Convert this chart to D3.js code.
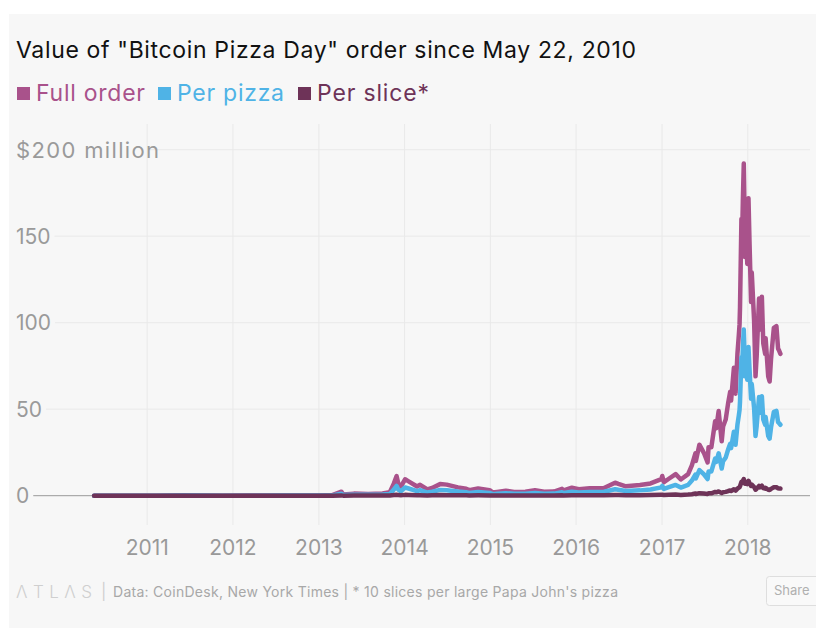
<!DOCTYPE html>
<html>
<head>
<meta charset="utf-8">
<script src="https://cdn.jsdelivr.net/npm/d3@7"></script>
<style>
  body { margin: 0; background: #fff; }
  text { font-family: Inter, "Noto Sans", sans-serif; }
</style>
</head>
<body>
<script>
// DATA (values in $ millions)
const dates = [
  '2010-05-22', '2010-07-15', '2010-11-06', '2011-02-10', '2011-06-08', '2011-08-01', '2011-11-18', '2012-03-01', '2012-08-17', '2012-12-31',
  '2013-03-01', '2013-04-09', '2013-04-16', '2013-06-01', '2013-08-01', '2013-10-01', '2013-11-01', '2013-11-18', '2013-11-30', '2013-12-07',
  '2013-12-18', '2014-01-05', '2014-01-20', '2014-02-25', '2014-03-10', '2014-04-10', '2014-04-30', '2014-06-03', '2014-07-01', '2014-08-18',
  '2014-09-22', '2014-10-05', '2014-11-12', '2014-12-31', '2015-01-14', '2015-02-01', '2015-03-10', '2015-04-14', '2015-06-01', '2015-07-12',
  '2015-08-20', '2015-10-01', '2015-11-04', '2015-11-11', '2015-12-16', '2016-01-15', '2016-03-01', '2016-05-01', '2016-06-17', '2016-07-01',
  '2016-08-02', '2016-10-01', '2016-11-15', '2016-12-31', '2017-01-04', '2017-01-11', '2017-02-01', '2017-03-02', '2017-03-24', '2017-04-24',
  '2017-05-10', '2017-05-25', '2017-05-27', '2017-06-11', '2017-06-30', '2017-07-16', '2017-07-20', '2017-08-01', '2017-08-17', '2017-08-22',
  '2017-09-01', '2017-09-14', '2017-09-20', '2017-10-01', '2017-10-12', '2017-10-20', '2017-10-24', '2017-11-05', '2017-11-12', '2017-11-20',
  '2017-11-26', '2017-11-29', '2017-12-01', '2017-12-07', '2017-12-10', '2017-12-13', '2017-12-17', '2017-12-19', '2017-12-22', '2017-12-25',
  '2017-12-28', '2018-01-01', '2018-01-06', '2018-01-10', '2018-01-17', '2018-01-20', '2018-01-30', '2018-02-05', '2018-02-10', '2018-02-20',
  '2018-02-24', '2018-03-04', '2018-03-10', '2018-03-18', '2018-03-20', '2018-03-31', '2018-04-06', '2018-04-12', '2018-04-24', '2018-05-05',
  '2018-05-12', '2018-05-16', '2018-05-22'
];

const fullOrder = [
  0, 0, 0, 0.01, 0.3, 0.13, 0.02, 0.05, 0.12, 0.13,
  0.34, 2.3, 0.7, 1.2, 1.0, 1.25, 2.0, 7.0, 11.3, 7.0,
  5.2, 9.5, 8.3, 5.3, 6.3, 3.6, 4.5, 6.7, 6.4, 4.8,
  4.0, 3.2, 4.2, 3.2, 1.8, 2.2, 2.9, 2.2, 2.3, 3.1,
  2.3, 2.4, 4.0, 3.1, 4.6, 3.8, 4.3, 4.5, 7.5, 6.8,
  5.4, 6.15, 7.1, 9.6, 11.4, 7.8, 9.8, 12.5, 9.4, 12.5,
  17.5, 24.5, 20, 29.5, 24.8, 19.3, 28, 28, 43, 39,
  49, 31.5, 40, 44, 54, 60, 55, 74, 59, 82,
  93, 99, 109, 160, 149, 170, 192, 175, 138, 140,
  146, 134, 172, 149, 112, 129, 101, 69, 81, 114,
  96, 115, 88, 82, 91, 69, 66, 79, 97, 98,
  85, 84, 82
];

const perPizza = [
  0, 0, 0, 0.01, 0.15, 0.07, 0.01, 0.03, 0.06, 0.07,
  0.17, 1.15, 0.35, 0.6, 0.5, 0.63, 1.0, 3.5, 5.65, 3.5,
  2.6, 4.75, 4.15, 2.65, 3.15, 1.8, 2.25, 3.35, 3.2, 2.4,
  2.0, 1.6, 2.1, 1.6, 0.9, 1.1, 1.45, 1.1, 1.15, 1.55,
  1.15, 1.2, 2.0, 1.55, 2.3, 1.9, 2.15, 2.25, 3.75, 3.4,
  2.7, 3.08, 3.55, 4.8, 5.7, 3.9, 4.9, 6.25, 4.7, 6.25,
  8.75, 12.25, 10.0, 14.75, 12.4, 9.65, 14.0, 14.0, 21.5, 19.5,
  24.5, 15.75, 20.0, 22.0, 27.0, 30.0, 27.5, 37.0, 29.5, 41.0,
  46.5, 49.5, 54.5, 80.0, 74.5, 85.0, 96.0, 87.5, 69.0, 70.0,
  73.0, 67.0, 86.0, 74.5, 56.0, 64.5, 50.5, 34.5, 40.5, 57.0,
  48.0, 57.5, 44.0, 41.0, 45.5, 34.5, 33.0, 39.5, 48.5, 49.0,
  42.5, 42.0, 41.0
];

const perSlice = [
  0, 0, 0, 0, 0.02, 0.01, 0, 0, 0.01, 0.01,
  0.02, 0.12, 0.04, 0.06, 0.05, 0.06, 0.1, 0.35, 0.57, 0.35,
  0.26, 0.48, 0.42, 0.27, 0.32, 0.18, 0.23, 0.34, 0.32, 0.24,
  0.2, 0.16, 0.21, 0.16, 0.09, 0.11, 0.15, 0.11, 0.12, 0.16,
  0.12, 0.12, 0.2, 0.16, 0.23, 0.19, 0.22, 0.23, 0.38, 0.34,
  0.27, 0.31, 0.36, 0.48, 0.57, 0.39, 0.49, 0.63, 0.47, 0.63,
  0.88, 1.23, 1.0, 1.48, 1.24, 0.97, 1.4, 1.4, 2.15, 1.95,
  2.45, 1.58, 2.0, 2.2, 2.7, 3.0, 2.75, 3.7, 2.95, 4.1,
  4.65, 4.95, 5.45, 8.0, 7.45, 8.5, 9.6, 8.75, 6.9, 7.0,
  7.3, 6.7, 8.6, 7.45, 5.6, 6.45, 5.05, 3.45, 4.05, 5.7,
  4.8, 5.75, 4.4, 4.1, 4.55, 3.45, 3.3, 3.95, 4.85, 4.9,
  4.25, 4.2, 4.1
];

const seriesNames = ['Full order', 'Per pizza', 'Per slice*'];
const seriesColors = ['#a9528b', '#4fb3e6', '#6e3358'];
const yTicks = [0, 50, 100, 150, 200];
const xTickYears = [2011, 2012, 2013, 2014, 2015, 2016, 2017, 2018];

const W = 816, H = 628;
const parse = d3.timeParse('%Y-%m-%d');
const axisFont = '"DejaVu Sans", Verdana, sans-serif';

const svg = d3.select('body').append('svg')
  .attr('width', W)
  .attr('height', H);

// panel background
svg.append('rect')
  .attr('x', 9).attr('y', 14)
  .attr('width', W - 9).attr('height', H - 14)
  .attr('fill', '#f7f7f7');

// SCALES
const x = d3.scaleTime()
  .domain([new Date(2011, 0, 1), new Date(2018, 0, 1)])
  .range([146.7, 747.3]);

const y = d3.scaleLinear()
  .domain([0, 200])
  .range([495.7, 149.7]);

// TITLE + LEGEND
svg.append('text')
  .attr('x', 16).attr('y', 58)
  .attr('font-size', 23)
  .attr('fill', '#111')
  .attr('textLength', 620)
  .attr('lengthAdjust', 'spacing')
  .text('Value of "Bitcoin Pizza Day" order since May 22, 2010');

// legend positions: square x, text width
const legendX = [17, 158, 298];
const legendW = [109, 107, 112];
const legend = svg.append('g');
seriesNames.forEach((name, i) => {
  legend.append('rect')
    .attr('x', legendX[i]).attr('y', 87)
    .attr('width', 13).attr('height', 13)
    .attr('fill', seriesColors[i]);
  legend.append('text')
    .attr('x', legendX[i] + 19).attr('y', 101)
    .attr('font-size', 23)
    .attr('fill', seriesColors[i])
    .attr('textLength', legendW[i])
    .attr('lengthAdjust', 'spacing')
    .text(name);
});

// X AXIS (gridlines + labels)
const xAxis = svg.append('g')
  .attr('transform', 'translate(0,525)')
  .call(d3.axisBottom(x)
    .tickValues(xTickYears.map((yr) => new Date(yr, 0, 1)))
    .tickSize(-401)
    .tickPadding(15)
    .tickFormat(d3.timeFormat('%Y')));
xAxis.select('.domain').remove();
xAxis.selectAll('.tick line').attr('stroke', '#e9e9e9');
xAxis.selectAll('.tick text')
  .attr('font-family', axisFont)
  .attr('font-size', 21)
  .attr('fill', '#999')
  .attr('dy', '0.71em');

// Y AXIS (labels + gridlines that start after the label)
const yAxis = svg.append('g');
yTicks.forEach((v) => {
  const label = yAxis.append('text')
    .attr('x', 16)
    .attr('y', y(v))
    .attr('dy', '0.36em')
    .attr('font-family', axisFont)
    .attr('font-size', v === 200 ? 22 : 21)
    .attr('fill', '#9a9a9a')
    .text(v === 200 ? '$200 million' : v);
  if (v === 200) label.attr('textLength', 143).attr('lengthAdjust', 'spacing');
  const end = 16 + label.node().getComputedTextLength() + 4;
  yAxis.insert('line', 'text')
    .attr('x1', end).attr('x2', 810)
    .attr('y1', y(v)).attr('y2', y(v))
    .attr('stroke', v === 0 ? '#999' : '#e9e9e9')
    .attr('stroke-width', 1);
});

// LINES
const seriesValues = [fullOrder, perPizza, perSlice];
const line = d3.line()
  .x((d) => x(d[0]))
  .y((d) => y(d[1]));

seriesValues.forEach((vals, i) => {
  const pts = dates.map((d, j) => [parse(d), vals[j]]);
  svg.append('path')
    .datum(pts)
    .attr('d', line)
    .attr('fill', 'none')
    .attr('stroke', seriesColors[i])
    .attr('stroke-width', 4.5)
    .attr('stroke-linejoin', 'round')
    .attr('stroke-linecap', 'round');
});

// FOOTER
svg.append('text')
  .attr('x', 16).attr('y', 598)
  .attr('font-size', 17)
  .attr('fill', '#cfcfcf')
  .attr('textLength', 76)
  .attr('lengthAdjust', 'spacing')
  .style('font-weight', 300)
  .text('ΛTLΛS');

svg.append('text')
  .attr('x', 101).attr('y', 597)
  .attr('font-size', 16)
  .attr('fill', '#d0d0d0')
  .text('|');

svg.append('text')
  .attr('x', 113).attr('y', 597)
  .attr('font-family', '"Liberation Sans Narrow", "Roboto Condensed", sans-serif')
  .attr('font-size', 14)
  .attr('fill', '#a8a8a8')
  .attr('textLength', 505)
  .attr('lengthAdjust', 'spacing')
  .text("Data:  CoinDesk, New York Times | * 10 slices per large Papa John's pizza");

svg.append('rect')
  .attr('x', 766.5).attr('y', 576.5)
  .attr('width', 60).attr('height', 29)
  .attr('rx', 3)
  .attr('fill', '#f9f9f9')
  .attr('stroke', '#dedede');

svg.append('text')
  .attr('x', 774).attr('y', 595)
  .attr('font-family', '"Liberation Sans Narrow", sans-serif')
  .attr('font-size', 13)
  .attr('fill', '#b0b0b0')
  .text('Share');
</script>
</body>
</html>
